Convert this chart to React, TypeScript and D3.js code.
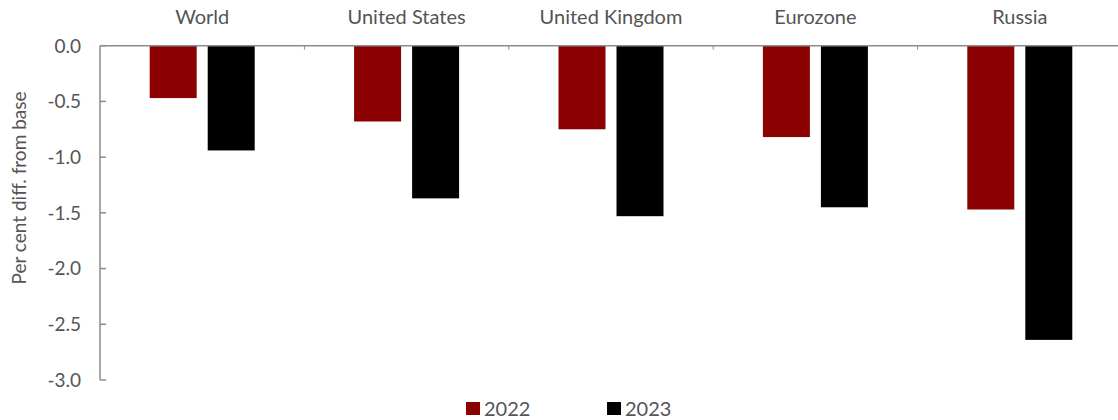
import React from "react";
import * as d3 from "d3";

const categories = ["World", "United States", "United Kingdom", "Eurozone", "Russia"];
const seriesNames = ["2022", "2023"];
const values2022 = [-0.47, -0.68, -0.75, -0.82, -1.47];
const values2023 = [-0.94, -1.37, -1.53, -1.45, -2.64];
const yTicks = [0, -0.5, -1.0, -1.5, -2.0, -2.5, -3.0];
const colors = ["#8B0000", "#000000"];

const W = 1118;
const H = 420;
const margin = { left: 100, top: 45.7 };
const plotBottom = 380;
const bandWidth = 204.4;
const groupWidth = 105;

// tick labels use a plain hyphen for negatives
const fmt = (v: number) => d3.format(".1f")(v).replace("\u2212", "-");

export default function App() {
  const x = d3
    .scaleBand<string>()
    .domain(categories)
    .range([margin.left, margin.left + bandWidth * categories.length])
    .paddingInner(0)
    .paddingOuter(0);
  const y = d3.scaleLinear().domain([0, -3]).range([margin.top, plotBottom]);
  const inner = d3.scaleBand<string>().domain(seriesNames).range([0, groupWidth]).paddingInner(0.19);
  const innerOffset = (x.bandwidth() - groupWidth) / 2;
  const series = [values2022, values2023];
  const textColor = "#555555";
  const axisColor = "#8c8c8c";
  const font = "Lato, 'Open Sans', sans-serif";

  return (
    <svg
      width={W}
      height={H}
      style={{ position: "absolute", left: 0, top: 0, background: "#fff" }}
      fontFamily={font}
    >
      {/* bars */}
      {series.map((vals, si) =>
        vals.map((v, ci) => (
          <rect
            key={`${si}-${ci}`}
            x={(x(categories[ci]) as number) + innerOffset + (inner(seriesNames[si]) as number)}
            y={y(0)}
            width={inner.bandwidth()}
            height={y(v) - y(0)}
            fill={colors[si]}
          />
        ))
      )}

      {/* y axis */}
      <line x1={margin.left} x2={margin.left} y1={y(0)} y2={y(-3)} stroke={axisColor} strokeWidth={1.5} />
      {yTicks.map((t) => (
        <g key={t}>
          <line x1={margin.left} x2={margin.left + 6} y1={y(t)} y2={y(t)} stroke={axisColor} strokeWidth={1.5} />
          <text
            x={81}
            y={y(t)}
            dy="0.36em"
            textAnchor="end"
            fontSize={19}
            fill={textColor}
          >
            {fmt(t)}
          </text>
        </g>
      ))}

      {/* zero line with category separators */}
      <line x1={margin.left} x2={W} y1={y(0)} y2={y(0)} stroke={axisColor} strokeWidth={1.5} />
      {categories.slice(1).map((c) => (
        <line
          key={c}
          x1={x(c) as number}
          x2={x(c) as number}
          y1={y(0)}
          y2={y(0) + 4}
          stroke={axisColor}
          strokeWidth={1}
        />
      ))}

      {/* category labels */}
      {categories.map((c) => (
        <text
          key={c}
          x={(x(c) as number) + x.bandwidth() / 2}
          y={24}
          textAnchor="middle"
          fontSize={20}
          fill={textColor}
        >
          {c}
        </text>
      ))}

      {/* y axis title */}
      <text
        transform={`translate(26, 188) rotate(-90)`}
        textAnchor="middle"
        fontSize={19}
        fill={textColor}
      >
        Per cent diff. from base
      </text>

      {/* legend */}
      {seriesNames.map((s, i) => (
        <g key={s} transform={`translate(${466 + i * 141}, 402)`}>
          <rect x={0} y={0} width={14} height={13} fill={colors[i]} />
          <text x={18} y={13.5} fontSize={20} fill={textColor}>
            {s}
          </text>
        </g>
      ))}
    </svg>
  );
}
